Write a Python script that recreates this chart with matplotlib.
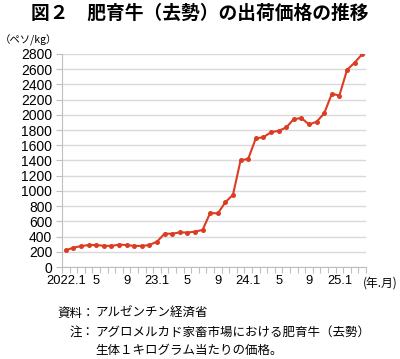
import matplotlib
matplotlib.use('Agg')
from matplotlib import pyplot as plt
import numpy as np

plt.rcParams['font.family'] = ['Noto Sans CJK JP', 'DejaVu Sans']

# monthly prices, 2022.1 - 2025.4 (peso/kg)
prices = [220, 255, 275, 290, 290, 280, 278, 295, 290, 278,
          278, 290, 334, 440, 437, 457, 453, 466, 488, 712,
          704, 853, 950, 1403, 1421, 1690, 1705, 1771, 1789, 1833,
          1943, 1957, 1873, 1908, 2019, 2275, 2253, 2588, 2685, 2796]
xlabels = {0: '2022.1', 4: '5', 8: '9', 12: '23.1', 16: '5', 20: '9',
           24: '24.1', 28: '5', 32: '9', 36: '25.1'}
yticks = list(range(0, 2801, 200))

line_color = '#dc3d22'
grid_color = '#d9d9d9'
axis_color = '#bfbfbf'

fig = plt.figure(figsize=(4.0, 3.59), dpi=100)
ax = fig.add_axes([0.155, 0.256, 0.76, 0.594])

x = np.arange(len(prices))
ax.plot(x, prices, color=line_color, lw=1.5, marker='o', ms=3.6,
        markeredgewidth=0, zorder=3)

ax.set_xlim(-0.5, len(prices) - 0.5)
ax.set_ylim(0, 2800)

# category axis: ticks at the boundaries, labels at the centres
ax.set_xticks(np.arange(-0.5, len(prices)), minor=True)
ax.set_xticks(list(xlabels.keys()))
ax.set_xticklabels(list(xlabels.values()), family=['Liberation Sans'], fontsize=9.3)
ax.tick_params(axis='x', which='major', length=0, pad=6)
ax.tick_params(axis='x', which='minor', length=4, color=axis_color, width=0.8)

ax.set_yticks(yticks)
ax.set_yticklabels([str(v) for v in yticks], family=['Liberation Sans'], fontsize=10)
ax.tick_params(axis='y', length=4, color=axis_color, width=0.8, pad=3)
ax.yaxis.grid(True, color=grid_color, lw=1)
ax.set_axisbelow(True)

for side in ['top', 'right']:
    ax.spines[side].set_visible(False)
for side in ['left', 'bottom']:
    ax.spines[side].set_color(axis_color)
    ax.spines[side].set_linewidth(0.8)

fig.text(0.5, 0.962, '図２　肥育牛（去勢）の出荷価格の推移', ha='center', va='center',
         fontsize=13.5, fontweight='bold')
fig.text(0.0, 0.888, '（ペソ/kg）', ha='left', va='center', fontsize=7.5)
fig.text(0.995, 0.212, '(年.月)', ha='right', va='center', fontsize=8.5)

fig.text(0.2375, 0.128, '資料：', ha='right', va='center', fontsize=9)
fig.text(0.2375, 0.128, 'アルゼンチン経済省', ha='left', va='center', fontsize=9)
fig.text(0.2375, 0.075, '注：', ha='right', va='center', fontsize=9)
fig.text(0.2375, 0.075, 'アグロメルカド家畜市場における肥育牛（去勢）', ha='left', va='center', fontsize=9)
fig.text(0.2375, 0.025, '生体１キログラム当たりの価格。', ha='left', va='center', fontsize=9)

fig.savefig('out.png', dpi=100)
